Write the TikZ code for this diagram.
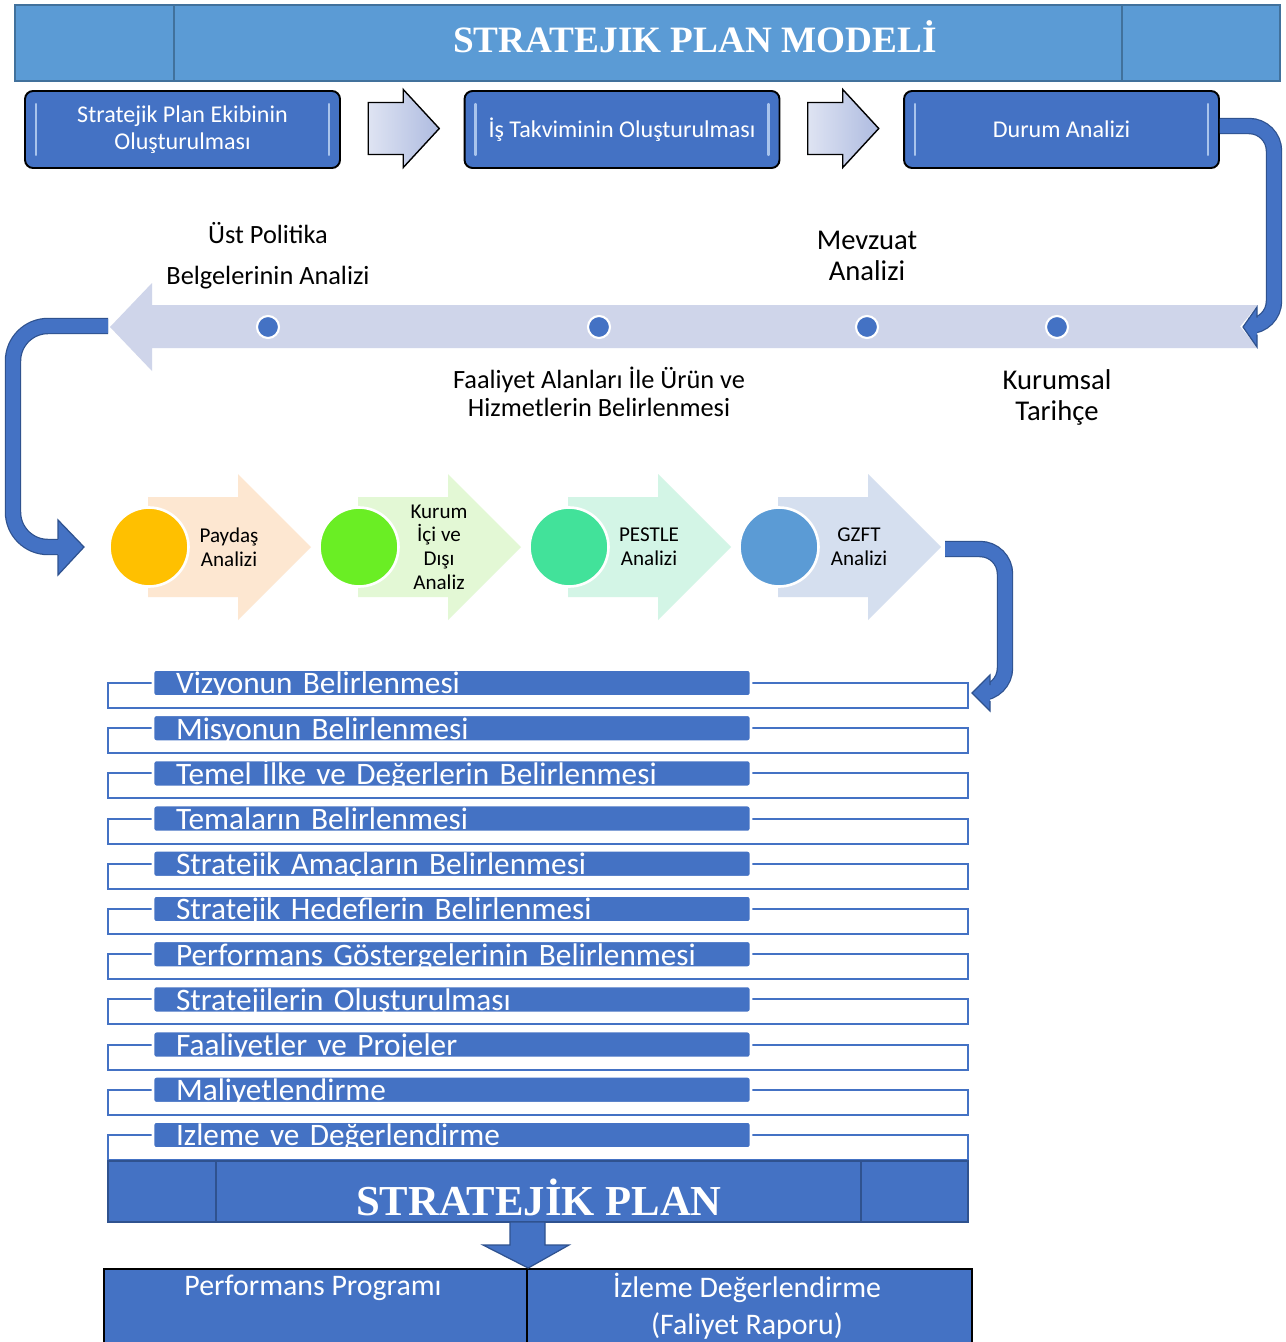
\documentclass[tikz,border=0pt]{standalone}
\usepackage{fontspec}
\setmainfont{Carlito}
\newfontfamily\headfont{Liberation Serif}
\usetikzlibrary{calc,positioning}

\definecolor{titleblue}{HTML}{5B9BD5}
\definecolor{titleedge}{HTML}{41719C}
\definecolor{boxblue}{HTML}{4472C4}
\definecolor{edgeblue}{HTML}{2F528F}
\definecolor{arrowlav}{HTML}{AEBBE0}
\definecolor{timelav}{HTML}{CFD5EA}
\definecolor{glossblue}{HTML}{A9C4EC}
\definecolor{dotyellow}{HTML}{FFC000}
\definecolor{dotgreen}{HTML}{6AEE24}
\definecolor{dotmint}{HTML}{42E29A}
\definecolor{dotblue}{HTML}{5B9BD5}
\definecolor{tailpeach}{HTML}{FDE7D1}
\definecolor{tailgreen}{HTML}{E3F8D5}
\definecolor{tailmint}{HTML}{D3F5E6}
\definecolor{tailblue}{HTML}{D5DFEF}

\tikzset{
  stepbox/.style={draw=black, line width=1.1pt, fill=boxblue, rounded corners=0.16cm,
    minimum width=6.3cm, minimum height=1.54cm, text=white, align=center,
    font=\fontsize{13.7}{15.3}\selectfont},
  lavarrow/.style={draw=black, line width=0.8pt, left color=arrowlav!40!white, right color=arrowlav},
  bendarrow/.style={line width=0.7pt, draw=edgeblue, double=boxblue, double distance=0.28cm, rounded corners=0.5cm},
  bendhead/.style={draw=edgeblue, line width=0.7pt, fill=boxblue},
  note/.style={align=center},
  timedot/.style={circle, fill=boxblue, draw=white, line width=1.2pt, minimum size=0.44cm, inner sep=0pt},
  stagedot/.style={circle, draw=white, line width=1.5pt, minimum size=1.58cm, inner sep=0pt},
  stagetext/.style={align=center, font=\fontsize{12}{13.4}\selectfont},
  listbar/.style={fill=boxblue, draw=white, line width=1.5pt, rounded corners=0.06cm,
    minimum width=11.96cm, inner sep=0pt, text height=13.8pt, text depth=1.5pt,
    text width=11.04cm, align=left, text=white, font=\fontsize{17.8}{18}\selectfont},
  listframe/.style={draw=boxblue, line width=1.1pt},
  celltext/.style={align=center, text=white, font=\fontsize{17}{21}\selectfont}
}

\begin{document}
\begin{tikzpicture}[x=0.02cm,y=-0.02cm]
    \useasboundingbox (0,0) rectangle (1285,1342);
    \fill[white] (0,0) rectangle (1285,1342);

    % Title bar
    \node[draw=titleedge, line width=1.2pt, fill=titleblue, minimum width=25.3cm,
          minimum height=1.52cm, inner sep=0pt] (title) at (647.5,43) {};
    \draw[titleedge, line width=1.2pt] (174,5) -- (174,81) (1122,5) -- (1122,81);
    \node[text=white, font=\headfont\bfseries\fontsize{21.2}{21}\selectfont] (titletext) at (695,37) {STRATEJIK PLAN MODELİ};

    % First steps
    \node[stepbox] (ekip) at (182.5,129.5) {Stratejik Plan Ekibinin\\Oluşturulması};
    \node[stepbox] (takvim) at (622,129.5) {İş Takviminin Oluşturulması};
    \node[stepbox] (durum) at (1061.5,129.5) {Durum Analizi};
    \foreach \b in {ekip,takvim,durum}{
        \draw[glossblue, line width=1.3pt, line cap=round]
            ($(\b.north west)+(12,14)$) -- ($(\b.south west)+(12,-14)$)
            ($(\b.north east)+(-12,14)$) -- ($(\b.south east)+(-12,-14)$);
    }
    \foreach \a/\b in {ekip/takvim,takvim/durum}{
        \coordinate (m) at ($(\a.east)!0.5!(\b.west)$);
        \filldraw[lavarrow] ($(m)+(-34,-27)$) -- ($(m)+(1,-27)$) -- ($(m)+(1,-40)$)
            -- ($(m)+(37,-1)$) -- ($(m)+(1,38)$) -- ($(m)+(1,25)$) -- ($(m)+(-34,25)$) -- cycle;
    }

    % Timeline arrow
    \fill[timelav] (1258,305) -- (152,305) -- (152,283) -- (110,327) -- (152,371)
        -- (152,348) -- (1258,348) -- (1240,326.5) -- cycle;
    \coordinate (timetip) at (110,327);
    \node[timedot] (ust) at (268,327) {};
    \node[timedot] (faaliyet) at (599,327) {};
    \node[timedot] (mevzuat) at (867,327) {};
    \node[timedot] (tarihce) at (1057,327) {};
    \node[note, font=\fontsize{15}{23.2}\selectfont] (ustlabel) at (268,256) {Üst Politika\\Belgelerinin Analizi};
    \node[note, font=\fontsize{16.3}{17.6}\selectfont] (mevzuatlabel) at (867,256) {Mevzuat\\Analizi};
    \node[note, font=\fontsize{15}{16}\selectfont] (faaliyetlabel) at (599,392) {Faaliyet Alanları İle Ürün ve\\Hizmetlerin Belirlenmesi};
    \node[note, font=\fontsize{16.3}{17.6}\selectfont] (tarihcelabel) at (1057,397) {Kurumsal\\Tarihçe};

    % Durum -> timeline
    \draw[bendarrow] ($(durum.east)+(0,-3.5)$) -- (1274,126) -- (1274,326) -- (1252,326);
    \fill[boxblue] (1257,307) -- (1243,327) -- (1257,347) -- cycle;
    \draw[edgeblue, line width=0.7pt] (1257,317.5) -- (1257,307) -- (1243,327) -- (1257,347) -- (1257,334.5);

    % Stage chevrons
    \foreach \cx/\dc/\tc/\nm/\txt in {148/dotyellow/tailpeach/paydas/{Paydaş\\Analizi},
        358/dotgreen/tailgreen/kurum/{Kurum\\İçi ve\\Dışı\\Analiz},
        568/dotmint/tailmint/pestle/{PESTLE\\Analizi},
        778/dotblue/tailblue/gzft/{GZFT\\Analizi}}{
        \fill[\tc] (\cx,497) -- (\cx+90,497) -- (\cx+90,474) -- (\cx+163,547)
            -- (\cx+90,620) -- (\cx+90,597) -- (\cx,597) -- cycle;
        \coordinate (\nm-tip) at (\cx+163,547);
        \node[stagedot, fill=\dc] (\nm-dot) at (\cx+1,547) {};
        \node[stagetext] (\nm) at (\cx+81,547) {\txt};
    }

    % timeline -> stages
    \draw[bendarrow, rounded corners=0.7cm] ($(timetip)+(-2,-1)$) -- (13,326) -- (13,547) -- (62,547);
    \fill[boxblue] (58,520) -- (84,547) -- (58,575) -- cycle;
    \draw[edgeblue, line width=0.7pt] (58,539) -- (58,520) -- (84,547) -- (58,575) -- (58,555);

    % List of steps
    \foreach \txt [count=\i] in {Vizyonun Belirlenmesi, Misyonun Belirlenmesi,
        Temel İlke ve Değerlerin Belirlenmesi, Temaların Belirlenmesi,
        Stratejik Amaçların Belirlenmesi, Stratejik Hedeflerin Belirlenmesi,
        Performans Göstergelerinin Belirlenmesi, Stratejilerin Oluşturulması,
        Faaliyetler ve Projeler, Maliyetlendirme, İzleme ve Değerlendirme}{
        \pgfmathsetmacro\ry{683+45.2*(\i-1)}
        \draw[listframe] (108,\ry) rectangle (968,\ry+25);
        \node[listbar] (row\i) at (452,\ry) {\txt};
    }

    % stages -> list
    \draw[bendarrow] ($(gzft-tip)+(4,2)$) -- (1005,549) -- (1005,693) -- (985,693);
    \fill[boxblue] (990,675) -- (972,693) -- (990,711) -- cycle;
    \draw[edgeblue, line width=0.7pt] (990,685) -- (990,675) -- (972,693) -- (990,711) -- (990,701);

    % Stratejik plan
    \node[draw=edgeblue, line width=1.2pt, fill=boxblue, minimum width=17.2cm,
          minimum height=1.22cm, inner sep=0pt] (plan) at (538,1191.5) {};
    \draw[edgeblue, line width=1.2pt] (216,1161) -- (216,1222) (861,1161) -- (861,1222);
    \node[text=white, font=\headfont\bfseries\fontsize{24.3}{24}\selectfont] (plantext) at (539,1197) {STRATEJİK PLAN};

    % Outputs
    \node[draw=black, line width=1.3pt, fill=boxblue, minimum width=8.46cm, minimum height=1.8cm,
          inner sep=0pt, anchor=north west] (perf) at (103,1268) {};
    \node[draw=black, line width=1.3pt, fill=boxblue, minimum width=8.9cm, minimum height=1.8cm,
          inner sep=0pt, anchor=north west] (izleme) at (526,1268) {};
    \filldraw[bendhead] (510,1222) -- (545,1222) -- (545,1245) -- (569,1245) -- (perf.north east)
        -- (483,1245) -- (510,1245) -- cycle;
    \node[celltext] (perftext) at (313,1288) {Performans Programı};
    \node[celltext] (izlemetext) at (747,1306) {İzleme Değerlendirme\\(Faliyet Raporu)};
\end{tikzpicture}
\end{document}
